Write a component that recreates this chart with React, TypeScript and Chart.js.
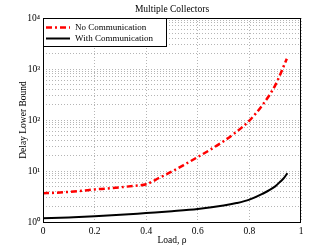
import React, { useEffect, useRef } from 'react';
import { Chart, registerables } from 'chart.js';

Chart.register(...registerables);

const chartTitle = 'Multiple Collectors';
const xAxisTitle = 'Load, ρ';
const yAxisTitle = 'Delay Lower Bound';
const seriesNames = ['No Communication', 'With Communication'];

const loadsNoComm = [0, 0.05, 0.1, 0.15, 0.2, 0.25, 0.3, 0.35, 0.4, 0.45, 0.5, 0.55, 0.6, 0.65, 0.7, 0.75, 0.8, 0.85, 0.9, 0.945];
const noComm = [3.65, 3.75, 3.9, 4.1, 4.35, 4.55, 4.8, 5.1, 5.5, 7.3, 9.8, 13.5, 18.8, 26.5, 38.4, 58.7, 97.5, 195, 478, 1585];

const loadsWithComm = [0, 0.1, 0.2, 0.3, 0.4, 0.5, 0.6, 0.7, 0.75, 0.8, 0.85, 0.9, 0.92, 0.935, 0.947];
const withComm = [1.18, 1.23, 1.29, 1.38, 1.5, 1.63, 1.8, 2.1, 2.35, 2.75, 3.55, 5.0, 6.2, 7.4, 9.1];

const xTickValues = [0, 0.2, 0.4, 0.6, 0.8, 1];
const xTickLabels = ['0', '0.2', '0.4', '0.6', '0.8', '1'];
const yDecades = [1, 10, 100, 1000, 10000];
const yTickLabels = ['10⁰', '10¹', '10²', '10³', '10⁴'];
const yMinorMultipliers = [2, 3, 4, 5, 6, 7, 8, 9];

const FONT = "'Liberation Serif', 'Times New Roman', serif";
const RED = '#ff0000';
const RED_DASH = [6, 3, 2, 3];

const overlayPlugin = {
  id: 'overlay',
  afterDraw(chart: any) {
    const { ctx, chartArea } = chart;
    const { left, top, right, bottom } = chartArea;
    ctx.save();
    // axes box
    ctx.strokeStyle = '#000';
    ctx.lineWidth = 1;
    ctx.setLineDash([]);
    ctx.strokeRect(left + 0.5, top + 0.5, right - left - 1, bottom - top);
    // title
    ctx.fillStyle = '#000';
    ctx.font = `9.5px ${FONT}`;
    ctx.textAlign = 'center';
    ctx.textBaseline = 'middle';
    ctx.fillText(chartTitle, (left + right) / 2, 9);
    // legend
    const lx = left + 0.5;
    const ly = top + 0.5;
    const lw = 123;
    const lh = 28;
    ctx.fillStyle = '#fff';
    ctx.fillRect(lx, ly, lw, lh);
    ctx.strokeStyle = '#000';
    ctx.strokeRect(lx, ly, lw, lh);
    const rows = [
      { y: top + 9.5, color: RED, width: 2.5, dash: RED_DASH },
      { y: top + 20.5, color: '#000', width: 2, dash: [] as number[] },
    ];
    rows.forEach((r, i) => {
      ctx.beginPath();
      ctx.strokeStyle = r.color;
      ctx.lineWidth = r.width;
      ctx.setLineDash(r.dash);
      ctx.moveTo(left + 3, r.y);
      ctx.lineTo(left + 27, r.y);
      ctx.stroke();
      ctx.setLineDash([]);
      ctx.fillStyle = '#000';
      ctx.font = `9px ${FONT}`;
      ctx.textAlign = 'left';
      ctx.textBaseline = 'middle';
      ctx.fillText(seriesNames[i], left + 32, r.y);
    });
    ctx.restore();
  },
};

export default function App() {
  const canvasRef = useRef<HTMLCanvasElement | null>(null);

  useEffect(() => {
    if (!canvasRef.current) return;
    const gridStyle = {
      color: '#b5b5b5',
      lineWidth: 1,
      drawTicks: false,
    };
    const chart = new Chart(canvasRef.current, {
      type: 'line',
      data: {
        datasets: [
          {
            label: seriesNames[0],
            data: loadsNoComm.map((x, i) => ({ x, y: noComm[i] })),
            borderColor: RED,
            borderWidth: 2.5,
            borderDash: RED_DASH,
            pointRadius: 0,
            cubicInterpolationMode: 'monotone',
            fill: false,
          },
          {
            label: seriesNames[1],
            data: loadsWithComm.map((x, i) => ({ x, y: withComm[i] })),
            borderColor: '#000',
            borderWidth: 2,
            pointRadius: 0,
            cubicInterpolationMode: 'monotone',
            fill: false,
          },
        ],
      },
      options: {
        animation: false,
        responsive: false,
        maintainAspectRatio: false,
        layout: { padding: { top: 18, right: 31, left: 0, bottom: 0 } },
        plugins: {
          legend: { display: false },
          title: { display: false },
          tooltip: { enabled: false },
        },
        scales: {
          x: {
            type: 'linear',
            min: 0,
            max: 1,
            afterFit: (s: any) => { s.height = 28; },
            afterBuildTicks: (s: any) => { s.ticks = xTickValues.map((v) => ({ value: v })); },
            grid: gridStyle,
            border: { display: false, dash: [1, 2] },
            ticks: {
              autoSkip: false,
              maxRotation: 0,
              padding: 4,
              color: '#000',
              font: { family: FONT, size: 9.5 },
              callback: (_v: any, i: number) => xTickLabels[i],
            },
            title: {
              display: true,
              text: xAxisTitle,
              color: '#000',
              font: { family: FONT, size: 9.5 },
              padding: { top: 0, bottom: 4 },
            },
          },
          y: {
            type: 'logarithmic',
            min: 1,
            max: 10000,
            afterFit: (s: any) => { s.width = 43; },
            afterBuildTicks: (s: any) => {
              const t: any[] = [];
              yDecades.forEach((d, i) => {
                t.push({ value: d, major: true });
                if (i < yDecades.length - 1) yMinorMultipliers.forEach((m) => t.push({ value: d * m }));
              });
              s.ticks = t;
            },
            grid: gridStyle,
            border: { display: false, dash: [1, 2] },
            ticks: {
              autoSkip: false,
              padding: 3,
              color: '#000',
              font: { family: FONT, size: 9.5 },
              callback: (v: any) => {
                const idx = yDecades.indexOf(Number(v));
                return idx >= 0 ? yTickLabels[idx] : '';
              },
            },
            title: {
              display: true,
              text: yAxisTitle,
              color: '#000',
              font: { family: FONT, size: 9.5 },
              padding: { top: 18, bottom: 0 },
            },
          },
        },
      } as any,
      plugins: [overlayPlugin],
    });
    return () => chart.destroy();
  }, []);

  return (
    <div style={{ position: 'absolute', left: 0, top: 0, width: 332, height: 250, background: '#fff' }}>
      <canvas ref={canvasRef} width={332} height={250} style={{ display: 'block', width: 332, height: 250 }} />
    </div>
  );
}
